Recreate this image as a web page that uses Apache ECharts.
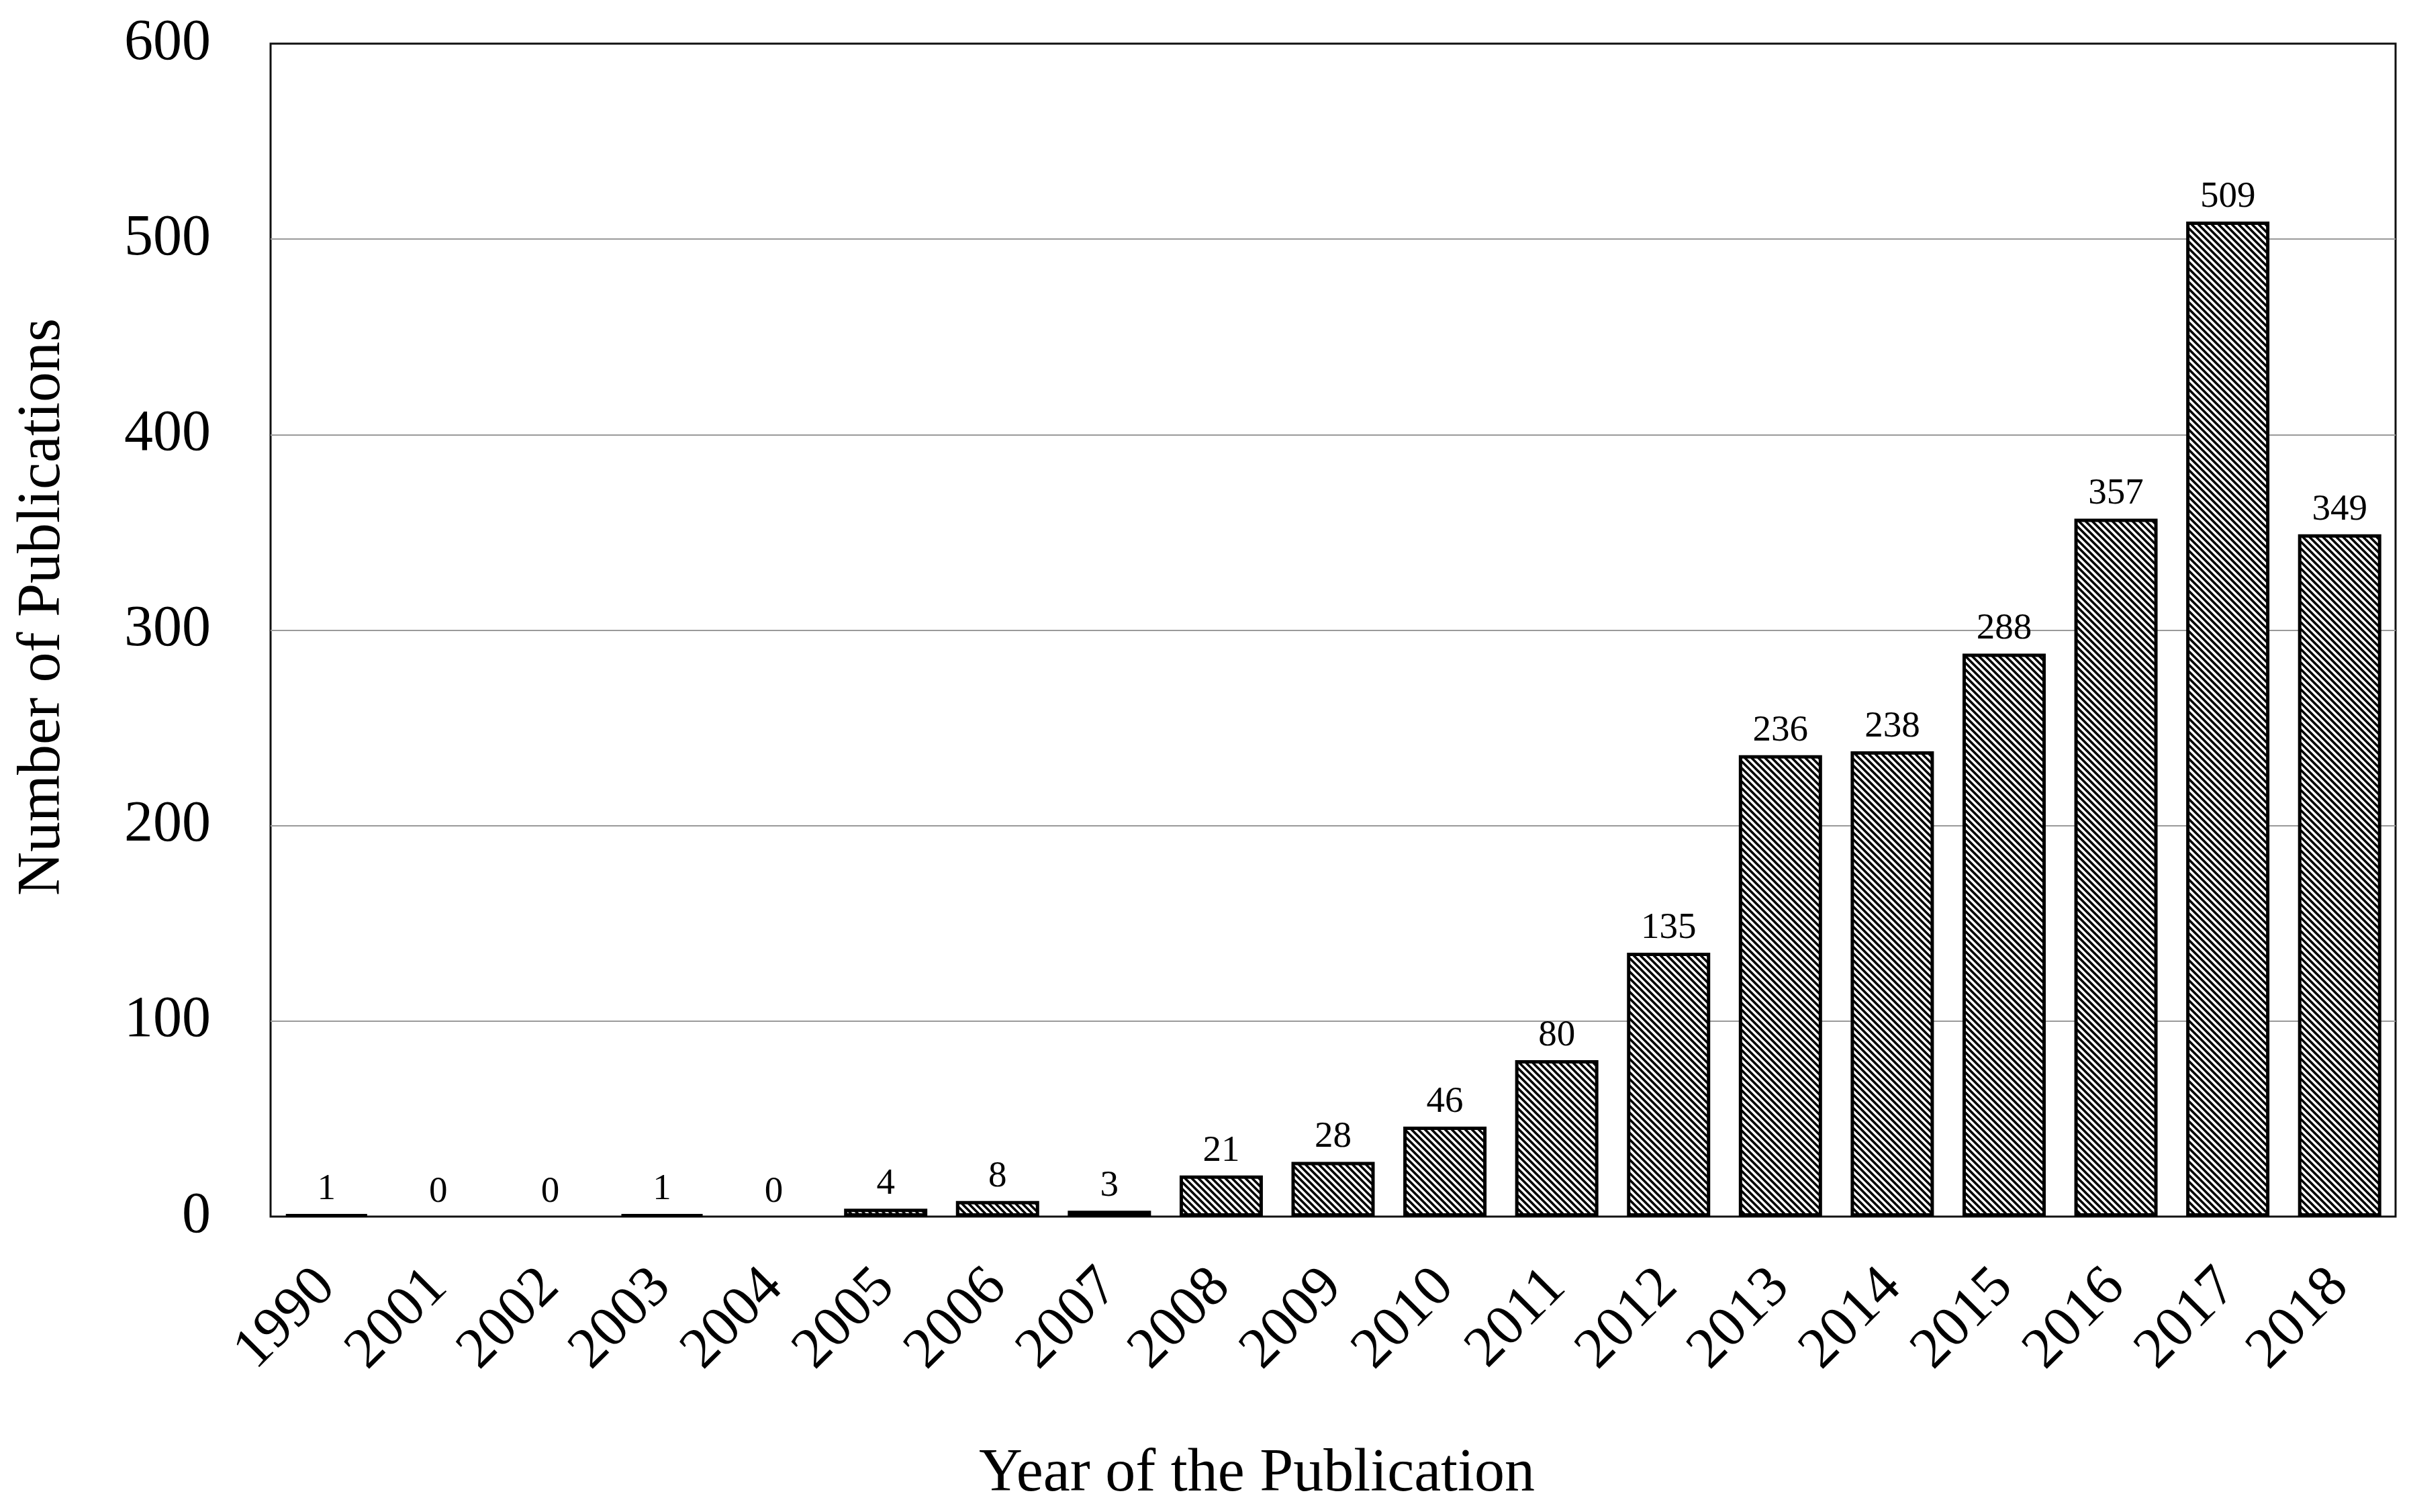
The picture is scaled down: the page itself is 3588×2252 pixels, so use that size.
<!DOCTYPE html>
<html>
<head>
<meta charset="utf-8">
<script src="https://cdn.jsdelivr.net/npm/echarts@6/dist/echarts.min.js"></script>
<style>
  html, body { margin: 0; padding: 0; background: #fff; }
  #chart { width: 3588px; height: 2252px; }
</style>
</head>
<body>
<div id="chart"></div>
<script>
// data
const years = ['1990', '2001', '2002', '2003', '2004', '2005', '2006', '2007', '2008', '2009',
  '2010', '2011', '2012', '2013', '2014', '2015', '2016', '2017', '2018'];
const publications = [1, 0, 0, 1, 0, 4, 8, 3, 21, 28, 46, 80, 135, 236, 238, 288, 357, 509, 349];
const yTicks = [0, 100, 200, 300, 400, 500, 600];

const font = 'Liberation Serif';

// diagonal hatch fill (\\\)
function hatch() {
  const c = document.createElement('canvas');
  c.width = 10; c.height = 10;
  const ctx = c.getContext('2d');
  ctx.fillStyle = '#fff';
  ctx.fillRect(0, 0, 10, 10);
  ctx.strokeStyle = '#000';
  ctx.lineWidth = 3.6;
  ctx.beginPath();
  ctx.moveTo(-5, -5); ctx.lineTo(15, 15);
  ctx.moveTo(-5, 5); ctx.lineTo(5, 15);
  ctx.moveTo(5, -5); ctx.lineTo(15, 5);
  ctx.stroke();
  return c;
}
const pattern = { image: hatch(), repeat: 'repeat' };

const chart = echarts.init(document.getElementById('chart'));
chart.setOption({
  animation: false,
  backgroundColor: '#fff',
  grid: {
    left: 403, right: 20, top: 65, bottom: 440,
    show: true, borderColor: '#111', borderWidth: 3
  },
  xAxis: {
    type: 'category',
    data: years,
    axisLine: { show: false },
    axisTick: { show: false },
    axisLabel: {
      rotate: 45, margin: 92, interval: 0,
      fontFamily: font, fontSize: 86, color: '#000'
    }
  },
  yAxis: {
    type: 'value',
    min: yTicks[0], max: yTicks[yTicks.length - 1], interval: 100,
    axisLine: { show: false },
    axisTick: { show: false },
    axisLabel: { margin: 89, fontFamily: font, fontSize: 86, color: '#000' },
    splitLine: {
      showMinLine: false, showMaxLine: false,
      lineStyle: { color: '#9a9a9a', width: 2 }
    }
  },
  graphic: [{
    type: 'text',
    x: 1872, y: 2196,
    style: {
      text: 'Year of the Publication',
      font: '90px "Liberation Serif"',
      fill: '#000',
      align: 'center',
      verticalAlign: 'middle'
    }
  }, {
    type: 'text',
    x: 64, y: 904,
    rotation: Math.PI / 2,
    style: {
      text: 'Number of Publications',
      font: '90px "Liberation Serif"',
      fill: '#000',
      align: 'center',
      verticalAlign: 'middle'
    }
  }],
  series: [{
    type: 'bar',
    barWidth: 124,
    data: publications.map(v => ({
      value: v,
      itemStyle: v === 0 ? { borderWidth: 0 } : {}
    })),
    itemStyle: { color: pattern, borderColor: '#000', borderWidth: 5 },
    label: {
      show: true, position: 'top', distance: 9,
      fontFamily: font, fontSize: 55, color: '#000'
    }
  }]
});
</script>
</body>
</html>
